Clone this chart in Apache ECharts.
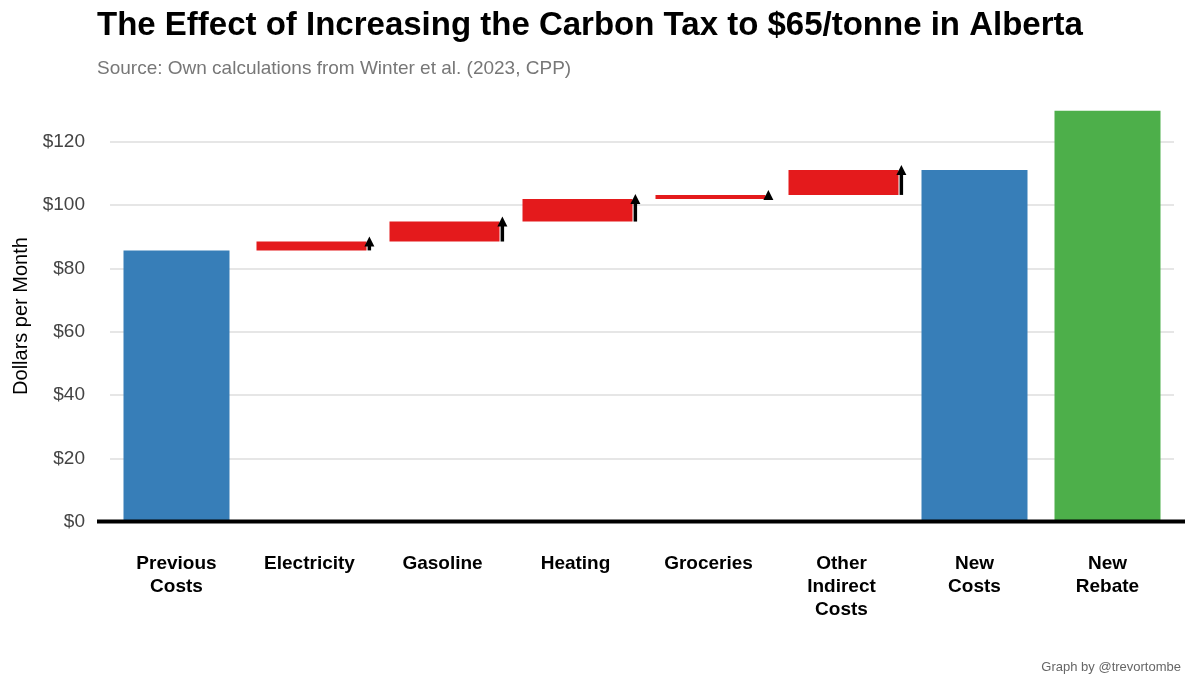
<!DOCTYPE html>
<html>
<head>
<meta charset="utf-8">
<script src="https://cdn.jsdelivr.net/npm/echarts@6/dist/echarts.min.js"></script>
<style>html,body{margin:0;padding:0;background:#fff}#c{width:1200px;height:686px}</style>
</head>
<body>
<div id="c"></div>
<script>
// 类别和数值
const categories = ['Previous\nCosts', 'Electricity', 'Gasoline', 'Heating', 'Groceries', 'Other\nIndirect\nCosts', 'New\nCosts', 'New\nRebate'];
const baseValues = [0, 85.7, 88.5, 94.8, 101.9, 103.2, 0, 0];
const stepValues = [0, 2.8, 6.3, 7.1, 1.3, 7.9, 0, 0];
const totalValues = [85.7, null, null, null, null, null, 111.1, null];
const rebateValues = [null, null, null, null, null, null, null, 129.8];
const yTicks = [0, 20, 40, 60, 80, 100, 120];

const chart = echarts.init(document.getElementById('c'));
const font = 'Liberation Sans';

// 箭头
function renderArrow(params, api) {
  const i = api.value(0);
  const lo = api.coord([i, api.value(1)]);
  const hi = api.coord([i, api.value(2)]);
  const size = api.size([1, 0]);
  const x = lo[0] + size[0] * 0.45;
  const head = 10;
  const tipY = hi[1] - 5;
  const children = [{
    type: 'polygon',
    shape: { points: [[x, tipY], [x - 5, tipY + head], [x + 5, tipY + head]] },
    style: { fill: '#000' }
  }];
  if (lo[1] > tipY + head) {
    children.push({
      type: 'line',
      shape: { x1: x, y1: tipY + head - 1, x2: x, y2: lo[1] },
      style: { stroke: '#000', lineWidth: 3.5 }
    });
  }
  return { type: 'group', children: children };
}

const arrowData = [];
for (let i = 1; i <= 5; i++) arrowData.push([i, baseValues[i], baseValues[i] + stepValues[i]]);

chart.setOption({
  animation: false,
  title: [{
    text: 'The Effect of Increasing the Carbon Tax to $65/tonne in Alberta',
    left: 92, top: 4,
    textStyle: { fontFamily: font, fontSize: 33, fontWeight: 'bold', color: '#000' }
  }, {
    text: 'Source: Own calculations from Winter et al. (2023, CPP)',
    left: 92, top: 54,
    textStyle: { fontFamily: font, fontSize: 19, fontWeight: 'normal', color: '#777' }
  }, {
    text: 'Graph by @trevortombe',
    right: 14, top: 656,
    textStyle: { fontFamily: font, fontSize: 13, fontWeight: 'normal', color: '#666' }
  }],
  grid: { left: 110, right: 26, top: 110, bottom: 164 },
  xAxis: {
    type: 'category',
    data: categories,
    axisLine: { show: false },
    axisTick: { show: false },
    axisLabel: { fontFamily: font, fontSize: 19, fontWeight: 'bold', color: '#000', margin: 30, lineHeight: 23, verticalAlign: 'top' }
  },
  yAxis: {
    type: 'value',
    min: 0, max: 130, interval: 20,
    name: 'Dollars per Month',
    nameLocation: 'middle',
    nameGap: 78,
    nameTextStyle: { fontFamily: font, fontSize: 20, color: '#000' },
    axisLabel: {
      fontFamily: font, fontSize: 19, color: '#444', margin: 25,
      formatter: v => yTicks.indexOf(v) >= 0 ? '$' + v : ''
    },
    splitLine: { show: false }
  },
  graphic: [{
    type: 'rect',
    shape: { x: 97, y: 519.5, width: 1088, height: 4 },
    style: { fill: '#000' },
    z: 100
  }],
  series: [{
    type: 'bar', stack: 'w', data: baseValues,
    itemStyle: { color: 'transparent' }, barWidth: 110, barGap: '-100%',
    markLine: {
      silent: true, symbol: 'none', label: { show: false }, z: 0,
      lineStyle: { color: '#e6e6e6', width: 2, type: 'solid' },
      data: yTicks.slice(1).map(v => ({ yAxis: v }))
    }
  }, {
    type: 'bar', stack: 'w', data: stepValues,
    itemStyle: { color: '#e41a1c' }, barWidth: 110
  }, {
    type: 'bar', data: totalValues, itemStyle: { color: '#377eb8' }, barWidth: 106, barGap: '-100%'
  }, {
    type: 'bar', data: rebateValues, itemStyle: { color: '#4daf4a' }, barWidth: 106, barGap: '-100%'
  }, {
    type: 'custom', renderItem: renderArrow, data: arrowData, z: 10
  }]
});
</script>
</body>
</html>
